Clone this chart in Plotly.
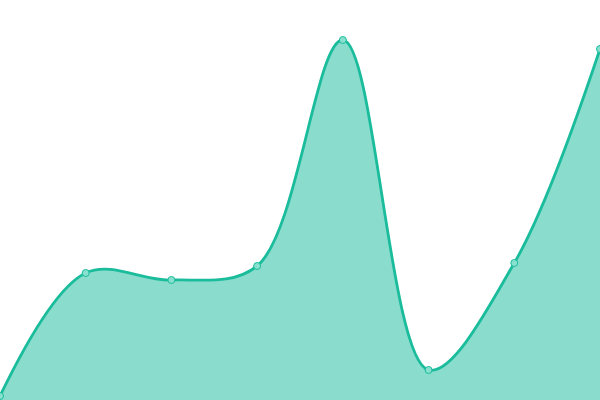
import plotly.graph_objects as go

x_vals = [0, 1, 2, 3, 4, 5, 6, 7]
y_vals = [4, 127, 120, 134, 360, 30, 137, 351]

fig = go.Figure()
fig.add_trace(go.Scatter(
    x=x_vals, y=y_vals,
    mode="lines+markers",
    line=dict(color="#1abc9c", width=2.8, shape="spline", smoothing=1),
    marker=dict(size=7, color="#88e0cf", line=dict(color="#1abc9c", width=1)),
    fill="tozeroy",
    fillcolor="rgba(26,188,156,0.51)",
    hoverinfo="skip",
))
fig.update_layout(
    width=600, height=400,
    margin=dict(l=0, r=0, t=0, b=0),
    paper_bgcolor="white", plot_bgcolor="white",
    showlegend=False,
    xaxis=dict(range=[0, 7], visible=False, fixedrange=True),
    yaxis=dict(range=[0, 400], visible=False, fixedrange=True),
)
fig.write_html(
    "out.html",
    config={"displayModeBar": False},
    post_script="document.body.style.margin='0';document.body.style.overflow='hidden';",
)
